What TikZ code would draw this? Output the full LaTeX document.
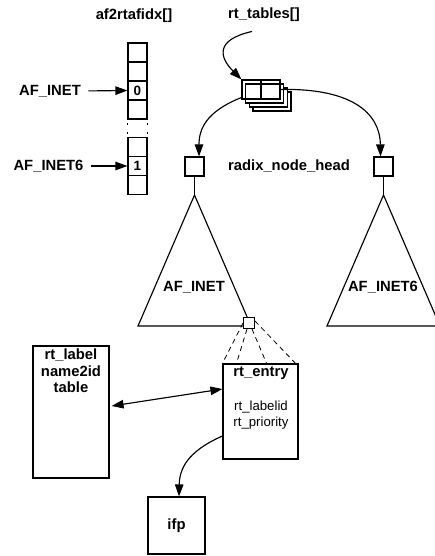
\documentclass[tikz,border=0pt]{standalone}
\usepackage{fontspec}
\setmainfont{Liberation Sans}
\usetikzlibrary{arrows.meta,calc}
\begin{document}
\begin{tikzpicture}[x=1pt,y=-1pt,line width=1.15pt,
  lbl/.style={font=\fontsize{14.8}{16.6}\selectfont\bfseries,inner sep=0pt},
  small/.style={font=\fontsize{13.2}{15}\selectfont,inner sep=0pt},
  cell/.style={draw,minimum width=19pt,minimum height=19pt,inner sep=0pt,font=\fontsize{13.5}{15}\selectfont\bfseries},
  shadowbox/.style={draw,fill=white,minimum width=38pt,minimum height=19pt,inner sep=0pt},
  arr/.style={-{Triangle[length=12pt,width=8.5pt]}},
  darr/.style={{Triangle[length=12pt,width=8.5pt]}-{Triangle[length=12pt,width=8.5pt]}},
  dsh/.style={line width=0.8pt,dash pattern=on 5pt off 4pt},
  dts/.style={line width=1.2pt,dash pattern=on 1.8pt off 7.2pt}]
\useasboundingbox (0,0) rectangle (435,556);
\clip (0,0) rectangle (435,556);
% array af2rtafidx
\node[lbl] (aftitle) at (134,16) {af2rtafidx[]};
\node[cell] (c1) at (137.5,52.5) {};
\node[cell] (c2) at (137.5,71.5) {};
\node[cell] (c3) at (137.5,90.5) {0};
\node[cell] (c4) at (137.5,109.5) {};
\node[cell] (d1) at (137.5,147) {};
\node[cell] (d2) at (137.5,166) {1};
\node[cell] (d3) at (137.5,185) {};
\draw[dts] ([yshift=-3.5pt]c4.south west) -- (d1.north west);
\draw[dts] ([yshift=-3.5pt]c4.south east) -- (d1.north east);
\node[lbl] (inet) at (50,91) {AF\_INET};
\node[lbl] (inet6) at (48.5,166) {AF\_INET6};
\draw[arr,shorten <=7pt] (inet.east) -- (c3.west);
\draw[arr,shorten <=7pt] (inet6.east) -- (d2.west);
% rt_tables
\node[lbl] (rttitle) at (264,15) {rt\_tables[]};
\node[shadowbox] (s3) at (272,101.5) {};
\node[shadowbox] (s2) at (268.3,97.5) {};
\node[shadowbox] (s1) at (264.6,93.5) {};
\node[cell] (t1) at (251.5,89.5) {};
\node[cell] (t2) at (270.5,89.5) {};
\draw[arr] ([xshift=-12pt,yshift=-9pt]rttitle.south) .. controls (214,40) and (220,58) .. (t1.north west);
% heads
\node[cell] (h1) at (194.5,166.5) {};
\node[cell] (h2) at (383.5,166.5) {};
\node[lbl] (rnh) at (289,166) {radix\_node\_head};
\draw[arr] ([yshift=-8pt]t1.west) .. controls (205,112) and (199,130) .. ([xshift=4.5pt]h1.north);
\draw[arr] (t2.east) .. controls (350,88) and (380,112) .. ([xshift=-3pt]h2.north);
% triangles
\coordinate (apex1) at (194.5,195);
\coordinate (apex2) at (383.5,195);
\draw (h1.south) -- (apex1);
\draw (h2.south) -- (apex2);
\draw (apex1) -- (138,326) -- (251,326) -- cycle;
\draw (apex2) -- (327,326) -- (440,326) -- cycle;
\node[lbl] (tri1) at (194,287) {AF\_INET};
\node[lbl] (tri2) at (383,287) {AF\_INET6};
\node[draw,fill=white,minimum width=11pt,minimum height=11pt,inner sep=0pt,line width=1pt] (sq) at (249,323) {};
% rt_entry
\node[draw,minimum width=75pt,minimum height=95pt,inner sep=0pt] (entry) at (260.5,411.5) {};
\node[lbl] (entrytxt) at (261,373) {rt\_entry};
\node[small] (labelid) at (261,407) {rt\_labelid};
\node[small] (prio) at (261,423) {rt\_priority};
\draw[dsh] (sq.west) -- (entry.north west);
\draw[dsh] ([xshift=-2pt]sq.south) -- ([xshift=14pt]entry.north west);
\draw[dsh] ([xshift=3pt]sq.south) -- ([xshift=-32pt]entry.north east);
\draw[dsh] ([yshift=2pt]sq.east) -- ([xshift=-3pt]entry.north east);
% rt_label
\node[draw,minimum width=76pt,minimum height=132pt,inner sep=0pt] (rtlabel) at (71,412) {};
\node[lbl,align=center] (rtlabeltxt) at (71,371) {rt\_label\\name2id\\table};
\draw[darr] ([xshift=2pt,yshift=6pt]rtlabel.east) -- ([yshift=22.5pt]entry.west);
% ifp
\node[draw,minimum width=57pt,minimum height=57pt,inner sep=0pt,lbl] (ifp) at (176.5,525.5) {ifp};
\draw[arr] ([yshift=-24.5pt]entry.west) .. controls (186,452) and (179.5,470) .. ([xshift=2.5pt]ifp.north);
\end{tikzpicture}
\end{document}
